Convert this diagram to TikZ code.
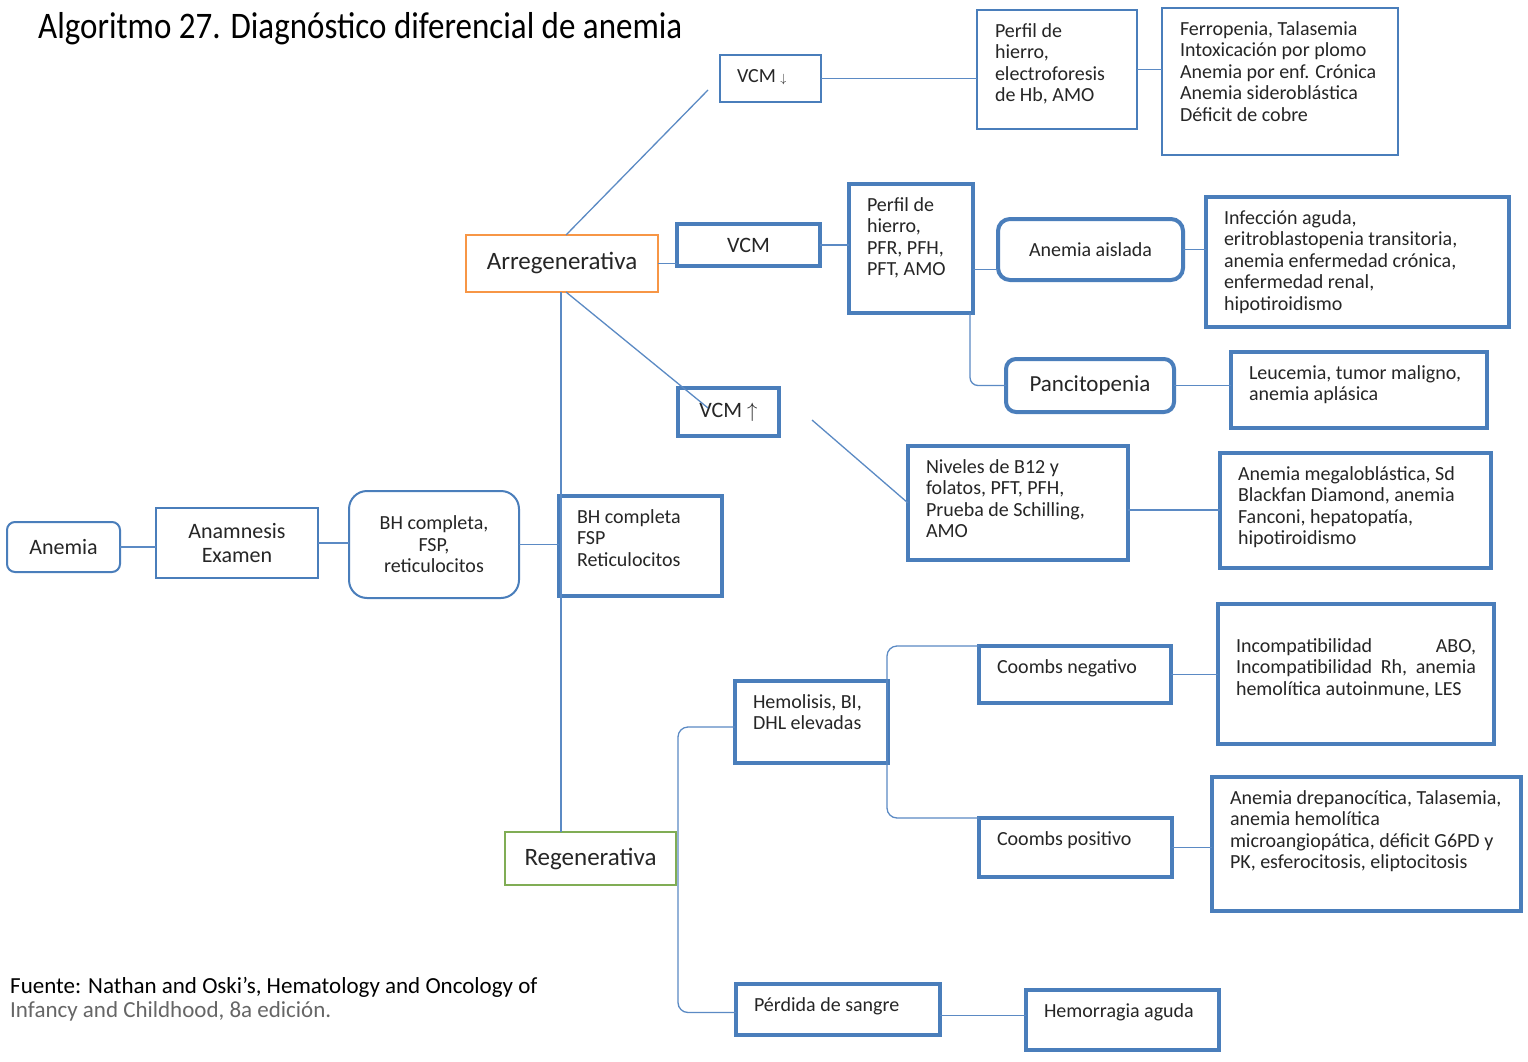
\documentclass[tikz,border=0pt]{standalone}
\usepackage{fontspec}
\setmainfont{Carlito}
\newfontfamily\titlefont[FakeStretch=0.88]{Carlito}
\usetikzlibrary{calc}

\definecolor{boxblue}{HTML}{4A7EBB}
\definecolor{lineblue}{HTML}{5B8AC4}
\definecolor{arrorange}{HTML}{F79646}
\definecolor{reggreen}{HTML}{80AD55}

% text of a box, set at its top
\newcommand{\boxlines}[3]{\parbox[c][#2][t]{#1}{\begin{tabular}[t]{@{}l@{}}#3\end{tabular}}}

\begin{document}
\begin{tikzpicture}[x=1pt, y=-1pt,
    conn/.style={draw=lineblue, line width=1.3pt},
    blue box/.style={draw=boxblue, line width=4pt, text=black!85, outer sep=0pt,
        font=\fontsize{20}{21.5}\selectfont},
    top box/.style={blue box, anchor=north west, inner xsep=18pt, inner ysep=12pt},
    mid box/.style={blue box, align=center, inner sep=0pt},
    ]

    \fill[white] (0,0) rectangle (1528,1062);
    \useasboundingbox (0,0) rectangle (1528,1062);

    % Title and source

    \node[anchor=base west, inner sep=0pt,
        font=\titlefont\fontsize{37.5}{40}\selectfont] (titulo) at (38,39)
        {Algoritmo 27. Diagnóstico diferencial de anemia}; %
    \node[anchor=base west, inner sep=0pt, align=left,
        font=\fontsize{23}{23.5}\selectfont] (fuente) at (10,1017)
        {Fuente: Nathan and Oski’s, Hematology and Oncology of\\
         \textcolor{black!60}{Infancy and Childhood, 8a edición.}}; %

    % Nodes

    \node[mid box, line width=2pt, rounded corners=8pt, minimum width=113pt,
        minimum height=50pt, font=\fontsize{22}{24}\selectfont]
        (anemia) at (63.5,547) {Anemia}; %
    \node[mid box, line width=2.5pt, minimum width=162pt, minimum height=70pt,
        font=\fontsize{22}{24}\selectfont]
        (anam) at (237,543) {Anamnesis\\Examen}; %
    \node[mid box, line width=2pt, rounded corners=18pt, minimum width=170pt,
        minimum height=107pt]
        (bhr) at (434,544.5) {BH completa,\\FSP,\\reticulocitos}; %
    \node[top box] (bhq) at (559,496)
        {\boxlines{127pt}{76pt}{BH completa\\FSP\\Reticulocitos}}; %

    \node[mid box, draw=arrorange, line width=2pt, minimum width=192pt,
        minimum height=57pt, font=\fontsize{25}{27}\selectfont]
        (arreg) at (562,263.5) {Arregenerativa}; %
    \node[mid box, draw=reggreen, line width=2pt, minimum width=171pt,
        minimum height=53pt, font=\fontsize{25}{27}\selectfont]
        (regen) at (590.5,858.5) {Regenerativa}; %

    % VCM bajo
    \node[top box, line width=2.5pt, inner xsep=17pt] (vcmdn) at (720,55)
        {\boxlines{67pt}{23pt}{VCM {\fontsize{12}{12}\selectfont$\downarrow$}}}; %
    \node[top box, line width=2pt] (hierro) at (977,10)
        {\boxlines{124pt}{95pt}{Perfil de\\hierro,\\electroforesis\\de Hb, AMO}}; %
    \node[top box, line width=2pt] (ferro) at (1162,8)
        {\boxlines{200pt}{123pt}{Ferropenia, Talasemia\\Intoxicación por plomo\\
         Anemia por enf. Crónica\\Anemia sideroblástica\\Déficit de cobre}}; %

    % VCM normal
    \node[mid box, minimum width=143pt, minimum height=42pt,
        font=\fontsize{22}{24}\selectfont]
        (vcm) at (748.5,245) {VCM}; %
    \node[top box] (pfr) at (849,184)
        {\boxlines{88pt}{105pt}{Perfil de\\hierro,\\PFR, PFH,\\PFT, AMO}}; %
    \node[mid box, rounded corners=12pt, minimum width=185pt, minimum height=61pt]
        (aislada) at (1090.5,249.5) {Anemia aislada}; %
    \node[top box] (infec) at (1206,197)
        {\boxlines{267pt}{106pt}{Infección aguda,\\eritroblastopenia transitoria,\\
         anemia enfermedad crónica,\\enfermedad renal,\\hipotiroidismo}}; %
    \node[mid box, rounded corners=10pt, minimum width=168pt, minimum height=53pt,
        font=\fontsize{23}{25}\selectfont]
        (panc) at (1090,385.5) {Pancitopenia}; %
    \node[top box] (leuc) at (1231,352)
        {\boxlines{220pt}{52pt}{Leucemia, tumor maligno,\\anemia aplásica}}; %

    % VCM alto
    \node[mid box, minimum width=101pt, minimum height=48pt,
        font=\fontsize{22}{24}\selectfont]
        (vcmup) at (728.5,412) {VCM $\uparrow$}; %
    \node[top box] (niv) at (908,446)
        {\boxlines{184pt}{90pt}{Niveles de B12 y\\folatos, PFT, PFH,\\
         Prueba de Schilling,\\AMO}}; %
    \node[top box] (megal) at (1220,453)
        {\boxlines{235pt}{91pt}{Anemia megaloblástica, Sd\\Blackfan Diamond, anemia\\
         Fanconi, hepatopatía,\\hipotiroidismo}}; %

    % Regenerativa
    \node[top box] (hemo) at (735,681)
        {\boxlines{117pt}{58pt}{Hemolisis, BI,\\DHL elevadas}}; %
    \node[top box] (cneg) at (979,646)
        {\boxlines{156pt}{33pt}{Coombs negativo}}; %
    \node[top box, inner ysep=33pt] (incomp) at (1218,604)
        {\parbox[c][74pt][t]{240pt}{\strut Incompatibilidad\hfill ABO,\\
         Incompatibilidad\hfill Rh,\hfill anemia\\hemolítica autoinmune, LES}}; %
    \node[top box] (cpos) at (979,818)
        {\boxlines{157pt}{35pt}{Coombs positivo}}; %
    \node[top box] (drep) at (1212,777)
        {\boxlines{273pt}{110pt}{Anemia drepanocítica, Talasemia,\\anemia hemolítica\\
         microangiopática, déficit G6PD y\\PK, esferocitosis, eliptocitosis}}; %
    \node[top box] (perd) at (736,984)
        {\boxlines{168pt}{27pt}{Pérdida de sangre}}; %
    \node[top box] (hemorr) at (1026,990)
        {\boxlines{157pt}{36pt}{Hemorragia aguda}}; %

    % Connectors

    \coordinate (vcmdn-in) at (708,90);
    \coordinate (vcmup-in) at (708,408);
    \coordinate (vcmup-out) at (812,420);

    \draw[conn] (anemia.east) -- (anemia.east -| anam.west);
    \draw[conn] (anam.east) -- (anam.east -| bhr.west);
    \draw[conn] (bhr.east) -- (bhr.east -| bhq.west);
    \draw[conn] ([xshift=-1pt]arreg.south) -- ([xshift=-1pt]arreg.south |- regen.north);
    \draw[conn] ([xshift=4pt]arreg.north) -- (vcmdn-in);
    \draw[conn] ([xshift=4pt]arreg.south) -- (vcmup-in);
    \draw[conn] (arreg.east) -- (arreg.east -| vcm.west);

    \draw[conn] (vcmdn.east) -- (vcmdn.east -| hierro.west);
    \draw[conn] (hierro.east) -- (hierro.east -| ferro.west);

    \draw[conn] (vcm.east) -- (vcm.east -| pfr.west);
    \draw[conn] ([yshift=-20pt]aislada.west) -- ([yshift=-20pt]aislada.west -| pfr.east);
    \draw[conn, rounded corners=8pt] ([xshift=-3pt]pfr.south east) |- (panc.west);
    \draw[conn] (aislada.east) -- (aislada.east -| infec.west);
    \draw[conn] (panc.east) -- (panc.east -| leuc.west);

    \draw[conn] (vcmup-out) -- (niv.west);
    \draw[conn] ([yshift=-7pt]niv.east) -- ([yshift=-7pt]niv.east -| megal.west);

    \draw[conn, rounded corners=10pt] ([yshift=-5pt]hemo.west)
        -| ([xshift=2pt]regen.east) |- ([yshift=-3pt]perd.west);
    \draw[conn, rounded corners=10pt] (cneg.north west)
        -| ([xshift=-1pt]hemo.east) |- (cpos.north west);
    \draw[conn] (cneg.east) -- (cneg.east -| incomp.west);
    \draw[conn] (cpos.east) -- (cpos.east -| drep.west);
    \draw[conn] ([yshift=-6pt]perd.east) -- ([yshift=-6pt]perd.east -| hemorr.west);

\end{tikzpicture}
\end{document}
